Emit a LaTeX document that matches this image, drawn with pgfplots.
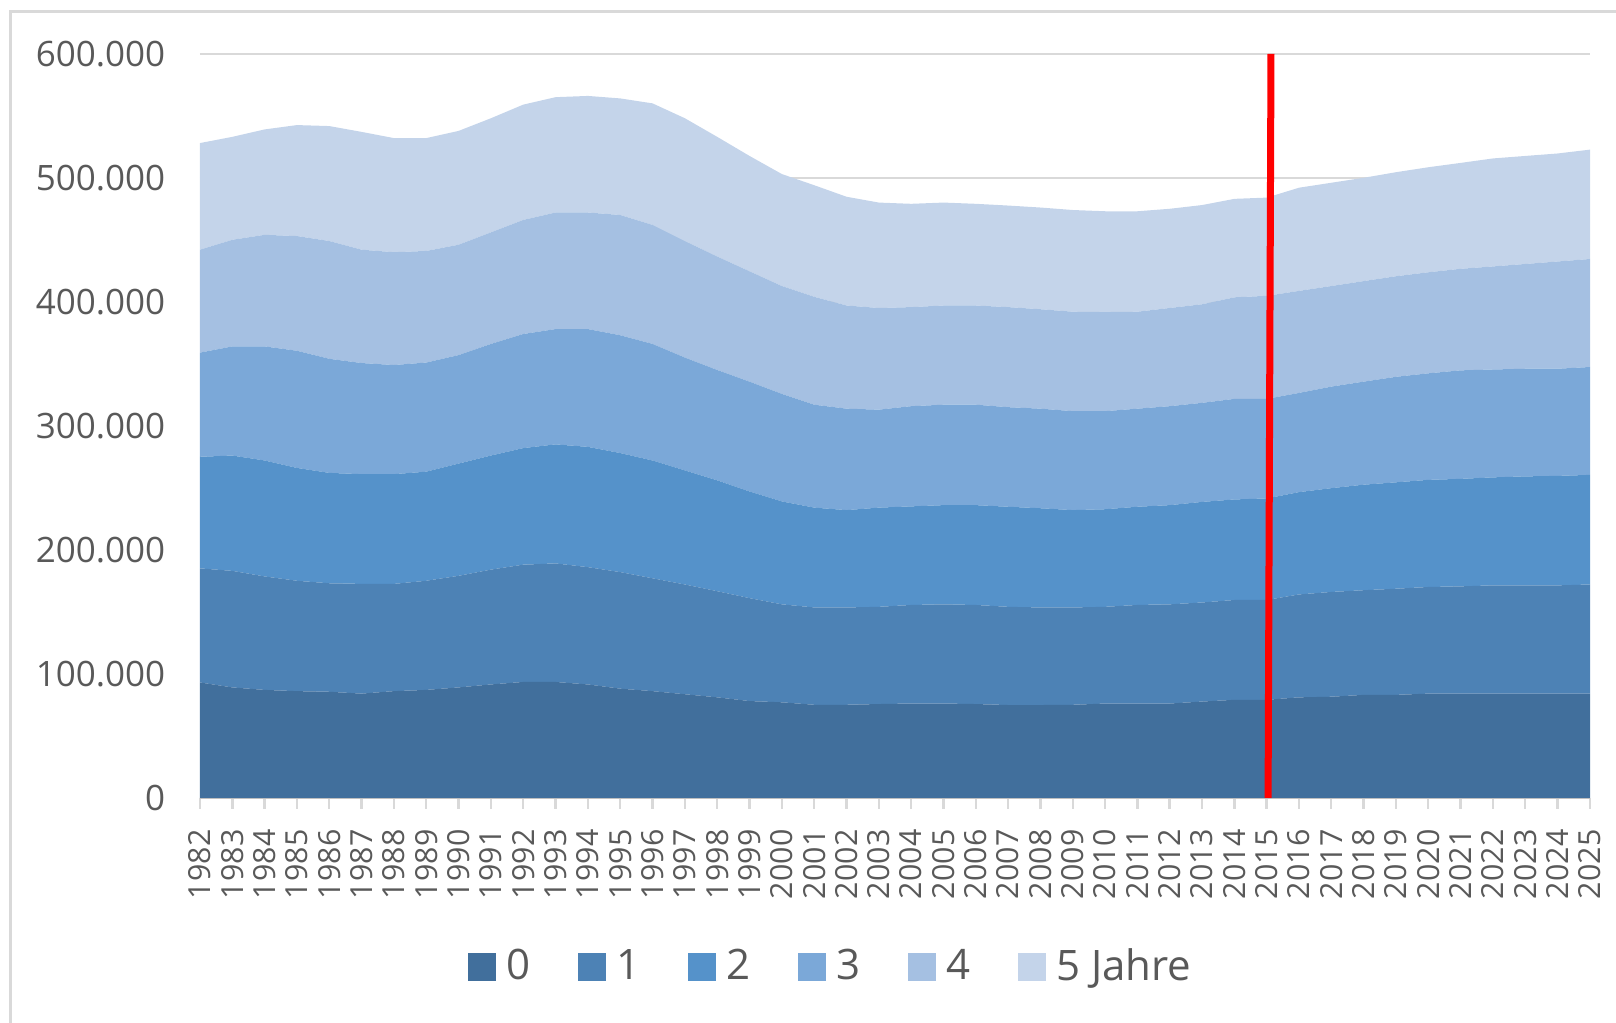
\documentclass[border=0pt]{standalone}
\usepackage{pgfplots}
\pgfplotsset{compat=1.18}
\usepackage{pgfplotstable}
\usepackage{fontspec}
\setmainfont{Open Sans}
\definecolor{c0}{HTML}{416F9C}
\definecolor{c1}{HTML}{4D82B5}
\definecolor{c2}{HTML}{5592CA}
\definecolor{c3}{HTML}{7BA8D8}
\definecolor{c4}{HTML}{A5C0E2}
\definecolor{c5}{HTML}{C4D4EA}
\definecolor{txt}{HTML}{595959}
\definecolor{gridc}{HTML}{D9D9D9}
\definecolor{framec}{HTML}{D9D9D9}
\definecolor{axisc}{HTML}{BFBFBF}
\pgfplotstableread{
year a b c d e f
1982 93 92 90 84 83 86
1983 89 94 93 88 86 83
1984 87 91.5 93.5 92 90 85
1985 86 89 91 94.5 92.5 89.5
1986 85.5 87.5 89 92 95 92.7
1987 84 88.5 88.5 89.6 91.4 95
1988 86 86.5 88.5 88 91 92
1989 87 88 88 88 90 91
1990 89 90 90.5 87.5 89 91.8
1991 91.4 92.6 92 90 90 92
1992 93.4 94.6 94 92 92 93
1993 93.4 95.6 96 93 94 93
1994 91.4 94.6 97 95 94 94
1995 88 94 96 95 97 94
1996 86 91 95 94 96 98
1997 83.5 88.5 92 91 94 99
1998 81 85.6 89.4 89 91.5 96.5
1999 78 83 86 88.6 89 93
2000 77 79 83 86.7 87 90.3
2001 75 78.5 80.5 83 87 90
2002 75 78.5 78.5 81.8 83.2 87.7
2003 75.6 78.4 80 79 82 85
2004 76 79.5 79.5 80.8 79.9 83.3
2005 76 80 80 81 80 83
2006 75.6 79.9 80.5 81 80 82
2007 74.8 79.2 80.7 80.3 80.7 81.9
2008 74.8 78.7 80 80.3 80.2 82
2009 75 78.5 78.5 79.8 80.2 82
2010 76 78 78.7 79.1 79.9 81.3
2011 76 79.5 79.2 79.1 78.2 81
2012 76 80 80 79.8 79.2 80
2013 77.6 79.9 81.1 79.9 79.5 80
2014 79 80.5 81.1 81.1 81.9 79.4
2015 79 80.5 81.9 80.3 83.1 79.2
2016 81 83 82.5 80 82.3 83.2
2017 81.5 84.5 83.7 81.9 81.1 83.3
2018 83 84.4 85.1 83.1 81.1 83.3
2019 83 85.6 85.8 85.1 81.1 83.9
2020 84 86 86.4 85.9 81.5 84.7
2021 84 86.5 86.7 87.5 81.9 85.4
2022 84 87.3 87.1 87 83.1 87.1
2023 84 87.3 87.9 86.8 84.5 87.1
2024 84 87.3 88.3 86.4 86.5 87.1
2025 84 88 88.4 87 87.1 88.2
}\data
\begin{document}
\begin{tikzpicture}[x=1pt,y=1pt]
\useasboundingbox (0,0) rectangle (404,255.75);
\draw[line width=0.75pt, color=framec] (2.5,0) -- (2.5,252.75) -- (404,252.75);
\begin{axis}[
  at={(50pt,56.3pt)}, anchor=south west,
  scale only axis, width=347.5pt, height=186pt,
  xmin=1982, xmax=2025, ymin=0, ymax=600,
  stack plots=y,
  axis x line*=bottom, axis y line*=left,
  y axis line style={draw=none},
  x axis line style={color=axisc, line width=0.6pt},
  ytick={0,100,...,600},
  yticklabels={0,100.000,200.000,300.000,400.000,500.000,600.000},
  ymajorgrids, grid style={color=gridc, line width=0.6pt},
  ytick style={draw=none},
  xtick={1982,...,2025},
  tick align=outside, major tick length=2.75pt,
  xtick style={color=gridc, line width=0.6pt},
  /pgf/number format/assume math mode=true,
  x tick label style={yshift=-5pt, rotate=90, anchor=east, inner sep=0pt,
    font=\fontsize{7.6}{9}\selectfont, text=txt, /pgf/number format/1000 sep={}},
  y tick label style={anchor=east, inner sep=0pt, xshift=-5.75pt,
    font=\fontsize{8.75}{10}\selectfont, text=txt},
  legend style={at={(0.456,-0.2276)}, anchor=center, draw=none, fill=none,
    legend columns=6, font=\fontsize{10.5}{12}\selectfont, text=txt,
    /tikz/every even column/.append style={column sep=10pt},
    /tikz/every odd column/.append style={column sep=0.5pt}},
  legend image code/.code={\fill[#1] (0pt,-3.5pt) rectangle (7pt,3.5pt);},
  extra description/.code={
    \draw[red, line width=1.75pt] (0.7684,0) -- (0.7705,1);
  },
]
\addplot[fill=c0, draw=none] table[x=year, y=a] {\data} \closedcycle;
\addplot[fill=c1, draw=none] table[x=year, y=b] {\data} \closedcycle;
\addplot[fill=c2, draw=none] table[x=year, y=c] {\data} \closedcycle;
\addplot[fill=c3, draw=none] table[x=year, y=d] {\data} \closedcycle;
\addplot[fill=c4, draw=none] table[x=year, y=e] {\data} \closedcycle;
\addplot[fill=c5, draw=none] table[x=year, y=f] {\data} \closedcycle;
\legend{0,1,2,3,4,5 Jahre}
\end{axis}
\end{tikzpicture}
\end{document}
